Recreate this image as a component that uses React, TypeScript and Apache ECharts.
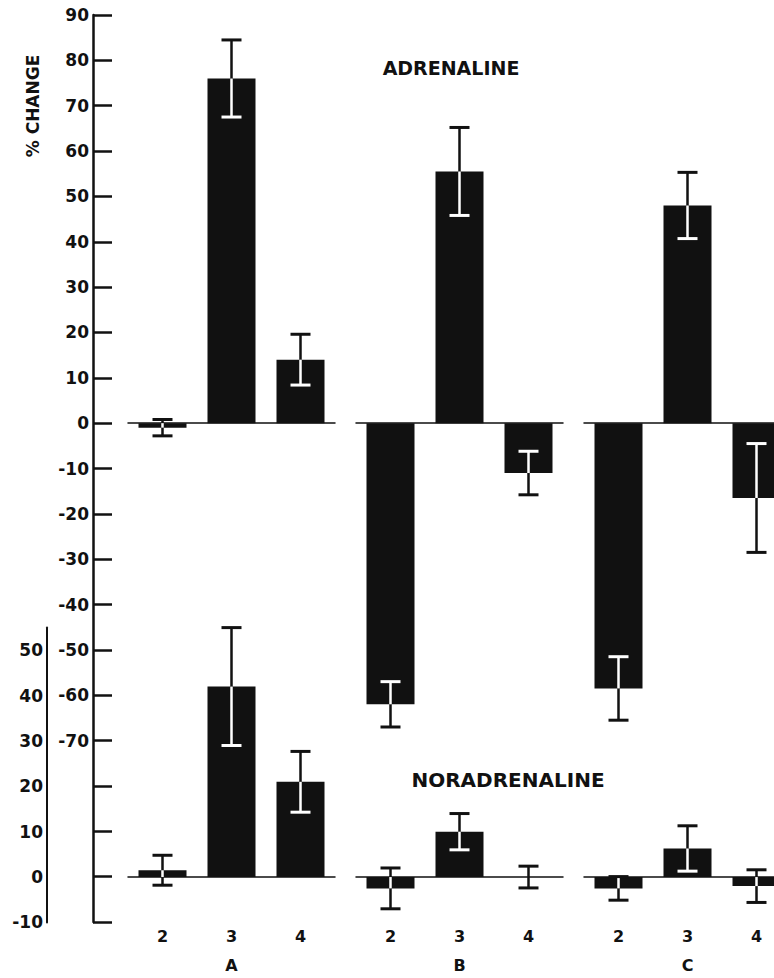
import { useEffect, useRef } from 'react';
import * as echarts from 'echarts';

const categories = ['2', '3', '4'];
const panelNames = ['A', 'B', 'C'];

// Adrenaline % change (mean, s.e.)
const adrA = [-1, 76, 14];
const adrAErr = [1.8, 8.5, 5.6];
const adrB = [-62, 55.5, -11];
const adrBErr = [5, 9.7, 4.8];
const adrC = [-58.5, 48, -16.5];
const adrCErr = [7, 7.3, 12];

// Noradrenaline % change (mean, s.e.)
const norA = [1.5, 42, 21];
const norAErr = [3.3, 13, 6.7];
const norB = [-2.5, 10, 0];
const norBErr = [4.5, 4, 2.4];
const norC = [-2.5, 6.3, -2];
const norCErr = [2.6, 5, 3.6];

const FONT = 'DejaVu Sans';
const INK = '#111';

export default function App() {
  const ref = useRef<HTMLDivElement>(null);

  useEffect(() => {
    if (!ref.current) return;
    const chart = echarts.init(ref.current, undefined, { renderer: 'svg' });

    const values = [adrA, adrB, adrC, norA, norB, norC];
    const errors = [adrAErr, adrBErr, adrCErr, norAErr, norBErr, norCErr];
    const lefts = [128, 356, 584];

    const grids: any[] = [];
    for (let i = 0; i < 6; i++) {
      const isNor = i >= 3;
      grids.push({
        left: lefts[i % 3],
        width: 207,
        top: isNor ? 627.6 : 15,
        height: isNor ? 294.8 : 907,
        containLabel: false,
        outerBoundsMode: 'none',
      });
    }

    const xAxes: any[] = [];
    for (let i = 0; i < 6; i++) {
      xAxes.push({
        type: 'category',
        gridIndex: i,
        data: categories,
        position: 'bottom',
        axisLine: { show: true, onZero: true, lineStyle: { color: INK, width: 1.5 } },
        axisTick: { show: false },
        axisLabel: { show: false },
        splitLine: { show: false },
      });
    }
    for (let i = 3; i < 6; i++) {
      xAxes.push({
        type: 'category',
        gridIndex: i,
        data: categories,
        position: 'bottom',
        axisLine: { show: false, onZero: false },
        axisTick: { show: false },
        splitLine: { show: false },
        axisLabel: { show: true, margin: 6, fontSize: 16, fontWeight: 'bold', color: INK, fontFamily: FONT },
        name: panelNames[i - 3],
        nameLocation: 'middle',
        nameGap: 35,
        nameTextStyle: { fontSize: 16, fontWeight: 'bold', color: INK, fontFamily: FONT },
      });
    }

    const labelStyle = { fontSize: 17, fontWeight: 'bold', color: INK, fontFamily: FONT, margin: 4 };

    const yAxes: any[] = [
      {
        type: 'value', gridIndex: 0, min: -110, max: 90, interval: 10,
        position: 'left', offset: 35,
        axisLine: { show: true, lineStyle: { color: INK, width: 2.5 } },
        axisTick: { show: true, inside: true, length: 19, lineStyle: { color: INK, width: 2.5 } },
        axisLabel: { ...labelStyle, formatter: (v: number) => (v < -70 ? '' : String(v)) },
        splitLine: { show: false },
      },
      { type: 'value', gridIndex: 1, min: -110, max: 90, show: false, splitLine: { show: false } },
      { type: 'value', gridIndex: 2, min: -110, max: 90, show: false, splitLine: { show: false } },
      {
        type: 'value', gridIndex: 3, min: -10, max: 55, interval: 10,
        position: 'left', offset: 81,
        axisLine: { show: true, lineStyle: { color: INK, width: 2 } },
        axisTick: { show: false },
        axisLabel: { ...labelStyle, formatter: (v: number) => (v > 50 ? '' : String(v)) },
        splitLine: { show: false },
      },
      { type: 'value', gridIndex: 4, min: -10, max: 55, show: false, splitLine: { show: false } },
      { type: 'value', gridIndex: 5, min: -10, max: 55, show: false, splitLine: { show: false } },
    ];

    const series: any[] = [];
    for (let i = 0; i < 6; i++) {
      series.push({
        type: 'bar',
        xAxisIndex: i,
        yAxisIndex: i,
        data: values[i],
        barWidth: 48,
        itemStyle: { color: INK },
        z: 2,
      });
      series.push({
        type: 'custom',
        xAxisIndex: i,
        yAxisIndex: i,
        z: 5,
        data: values[i].map((v, k) => [k, v, errors[i][k]]),
        renderItem: (_params: any, api: any) => {
          const k = api.value(0);
          const v = api.value(1);
          const e = api.value(2);
          const lo = v - e;
          const hi = v + e;
          const x = api.coord([k, v])[0];
          const yHi = api.coord([k, hi])[1];
          const yLo = api.coord([k, lo])[1];
          const bLo = Math.min(0, v);
          const bHi = Math.max(0, v);
          const children: any[] = [
            { type: 'line', shape: { x1: x, y1: yHi, x2: x, y2: yLo }, style: { stroke: INK, lineWidth: 2.5 } },
          ];
          const wLo = Math.max(lo, bLo);
          const wHi = Math.min(hi, bHi);
          if (wHi > wLo) {
            children.push({
              type: 'line',
              shape: { x1: x, y1: api.coord([k, wHi])[1], x2: x, y2: api.coord([k, wLo])[1] },
              style: { stroke: '#fff', lineWidth: 2.5 },
            });
          }
          const capColor = (val: number) => (val > bLo && val < bHi ? '#fff' : INK);
          children.push({
            type: 'line', shape: { x1: x - 10, y1: yHi, x2: x + 10, y2: yHi },
            style: { stroke: capColor(hi), lineWidth: 3 },
          });
          children.push({
            type: 'line', shape: { x1: x - 10, y1: yLo, x2: x + 10, y2: yLo },
            style: { stroke: capColor(lo), lineWidth: 3 },
          });
          return { type: 'group', children };
        },
      });
    }

    chart.setOption({
      animation: false,
      backgroundColor: '#fff',
      grid: grids,
      xAxis: xAxes,
      yAxis: yAxes,
      series,
      graphic: [
        {
          type: 'text', x: 33, y: 106, rotation: Math.PI / 2,
          style: { text: '% CHANGE', fontSize: 17, fontWeight: 'bold', fontFamily: FONT, fill: INK, align: 'center', verticalAlign: 'middle' },
        },
        {
          type: 'text', x: 451, y: 68,
          style: { text: 'ADRENALINE', fontSize: 19, fontWeight: 'bold', fontFamily: FONT, fill: INK, align: 'center', verticalAlign: 'middle' },
        },
        {
          type: 'text', x: 508, y: 780,
          style: { text: 'NORADRENALINE', fontSize: 20, fontWeight: 'bold', fontFamily: FONT, fill: INK, align: 'center', verticalAlign: 'middle' },
        },
      ],
    });

    return () => chart.dispose();
  }, []);

  return (
    <div
      ref={ref}
      style={{ position: 'absolute', left: 0, top: 0, width: 774, height: 978, background: '#fff' }}
    />
  );
}
